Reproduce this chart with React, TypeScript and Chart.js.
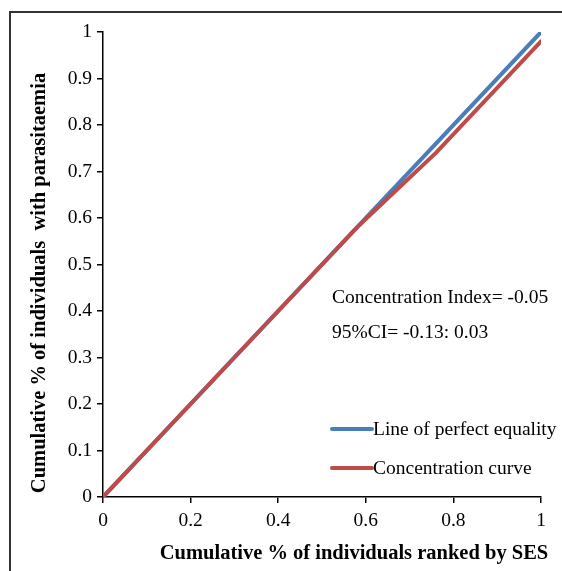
import React, { useEffect, useRef } from "react";
import { Chart, registerables } from "chart.js";

Chart.register(...registerables);

const equalityX = [0, 1];
const equalityY = [0, 1];
const curveX = [0, 0.2, 0.4, 0.58, 0.76, 1];
const curveY = [0, 0.2, 0.4, 0.58, 0.74, 0.98];
const legendLabels = ["Line of perfect equality", "Concentration curve"];
const annotationLines = ["Concentration Index= -0.05", "95%CI= -0.13: 0.03"];
const xTitle = "Cumulative % of individuals ranked by SES";
const yTitle = "Cumulative % of individuals  with parasitaemia";

const BLUE = "#4A7EBB";
const RED = "#BE4B48";
const SERIF = "'Liberation Serif', 'Times New Roman', serif";

const decorPlugin = {
  id: "decor",
  beforeDraw(chart: any) {
    const ctx = chart.ctx;
    ctx.save();
    ctx.fillStyle = "#fff";
    ctx.fillRect(0, 0, chart.width, chart.height);
    ctx.strokeStyle = "#333";
    ctx.lineWidth = 2;
    ctx.beginPath();
    ctx.moveTo(10, chart.height);
    ctx.lineTo(10, 12);
    ctx.lineTo(chart.width, 12);
    ctx.stroke();
    ctx.restore();
  },
  afterDraw(chart: any) {
    const ctx = chart.ctx;
    const a = chart.chartArea;
    ctx.save();
    ctx.fillStyle = "#000";
    // axis titles
    ctx.font = `bold 20.5px ${SERIF}`;
    ctx.textAlign = "center";
    ctx.textBaseline = "middle";
    ctx.fillText(xTitle, a.left + 251, a.bottom + 57);
    ctx.save();
    ctx.translate(40, a.top + 251);
    ctx.rotate(-Math.PI / 2);
    ctx.fillText(yTitle, 0, 0);
    ctx.restore();
    // annotation
    ctx.font = `19.5px ${SERIF}`;
    ctx.textAlign = "left";
    ctx.fillText(annotationLines[0], a.left + 229, a.top + 266);
    ctx.fillText(annotationLines[1], a.left + 229, a.top + 301);
    // legend
    const colors = [BLUE, RED];
    const ys = [a.top + 397, a.top + 436];
    for (let i = 0; i < 2; i++) {
      ctx.strokeStyle = colors[i];
      ctx.lineWidth = 4;
      ctx.lineCap = "round";
      ctx.beginPath();
      ctx.moveTo(a.left + 229, ys[i]);
      ctx.lineTo(a.left + 269, ys[i]);
      ctx.stroke();
      ctx.fillText(legendLabels[i], a.left + 270, ys[i] + 1);
    }
    ctx.restore();
  },
};

export default function App() {
  const ref = useRef<HTMLCanvasElement>(null);
  useEffect(() => {
    document.body.style.margin = "0";
    const fmt = (v: any) => String(Number(Number(v).toFixed(1)));
    const chart = new Chart(ref.current!, {
      type: "scatter",
      data: {
        datasets: [
          {
            label: legendLabels[0],
            data: equalityX.map((x, i) => ({ x, y: equalityY[i] })),
            borderColor: BLUE,
            backgroundColor: BLUE,
            showLine: true,
            pointRadius: 0,
            borderWidth: 4,
            borderCapStyle: "round",
            order: 2,
          },
          {
            label: legendLabels[1],
            data: curveX.map((x, i) => ({ x, y: curveY[i] })),
            borderColor: RED,
            backgroundColor: RED,
            showLine: true,
            pointRadius: 0,
            borderWidth: 4,
            borderCapStyle: "round",
            order: 1,
          },
        ],
      },
      plugins: [decorPlugin],
      options: {
        animation: false,
        responsive: false,
        devicePixelRatio: 1,
        layout: { padding: { left: 0, top: 32, right: 21, bottom: 0 } },
        plugins: { legend: { display: false }, tooltip: { enabled: false } },
        scales: {
          x: {
            type: "linear",
            min: 0,
            max: 1,
            afterFit: (s: any) => { s.height = 74; },
            ticks: {
              stepSize: 0.2,
              color: "#000",
              padding: 6,
              font: { family: SERIF, size: 19.5 },
              callback: fmt,
            },
            grid: { drawOnChartArea: false, drawTicks: true, tickLength: 6, color: "#000", lineWidth: 1.5 },
            border: { display: true, color: "#000", width: 1.5 },
          },
          y: {
            type: "linear",
            min: 0,
            max: 1,
            afterFit: (s: any) => { s.width = 103; },
            ticks: {
              stepSize: 0.1,
              color: "#000",
              padding: 5,
              font: { family: SERIF, size: 19.5 },
              callback: fmt,
            },
            grid: { drawOnChartArea: false, drawTicks: true, tickLength: 6, color: "#000", lineWidth: 1.5 },
            border: { display: true, color: "#000", width: 1.5 },
          },
        },
      },
    } as any);
    return () => chart.destroy();
  }, []);
  return (
    <div style={{ width: 562, height: 571 }}>
      <canvas ref={ref} width={562} height={571} style={{ display: "block" }} />
    </div>
  );
}
